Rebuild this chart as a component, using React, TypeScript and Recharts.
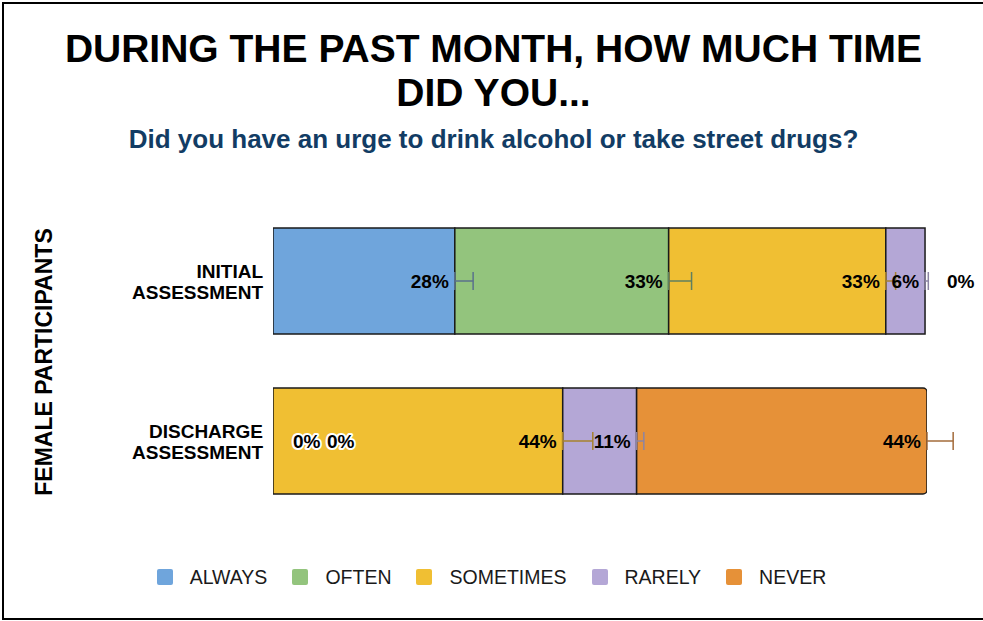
import React from "react";
import { BarChart, Bar, XAxis, YAxis, ErrorBar, LabelList } from "recharts";

const categories = ["INITIAL ASSESSMENT", "DISCHARGE ASSESSMENT"];
const always = [27.8, 0];
const often = [32.7, 0];
const sometimes = [33.2, 44.3];
const rarely = [6.0, 11.3];
const never = [0, 44.4];

const alwaysErr = [2.8, 0];
const oftenErr = [3.5, 0];
const sometimesErr = [1.5, 4.6];
const rarelyErr = [0.5, 1.1];
const neverErr = [0, 4];

const seriesNames = ["ALWAYS", "OFTEN", "SOMETIMES", "RARELY", "NEVER"];
const colors = ["#6fa5dc", "#93c47d", "#f0bf33", "#b4a7d6", "#e69138"];
const errColors = ["#5a718c", "#5f7f60", "#a7822c", "#8c84a3", "#a36b3a"];

const keys = ["always", "often", "sometimes", "rarely", "never"];
const seriesValues = [always, often, sometimes, rarely, never];

const data = categories.map((name, i) => ({
  name,
  always: always[i],
  often: often[i],
  sometimes: sometimes[i],
  rarely: rarely[i],
  never: never[i],
  alwaysE: [0, alwaysErr[i]],
  oftenE: [0, oftenErr[i]],
  sometimesE: [0, sometimesErr[i]],
  rarelyE: [0, rarelyErr[i]],
  neverE: [0, neverErr[i]],
}));

const FONT = "'Liberation Sans', Arial, sans-serif";
const LABEL_SIZE = 19;

const ZeroText = ({ x, y }: { x: number; y: number }) => (
  <text
    x={x}
    y={y}
    dy={7}
    textAnchor="start"
    fontFamily={FONT}
    fontWeight="bold"
    fontSize={LABEL_SIZE}
    fill="#000"
    stroke="#fff"
    strokeWidth={4}
    strokeLinejoin="round"
    style={{ paintOrder: "stroke" }}
  >
    0%
  </text>
);

// label for series s; zero-valued neighbours get their "0%" drawn by the
// first / last non-zero segment of the row
const makeLabel = (s: number) => (props: any) => {
  const { x, y, width, height, value, index } = props;
  if (!Number(value)) return null;
  const cy = Number(y) + Number(height) / 2;
  const row = seriesValues.map((arr) => arr[index]);
  const firstNZ = row.findIndex((v) => v > 0);
  let lastNZ = -1;
  row.forEach((v, j) => {
    if (v > 0) lastNZ = j;
  });
  const extras: React.ReactNode[] = [];
  if (s === firstNZ) {
    for (let j = 0; j < s; j++) {
      extras.push(<ZeroText key={`b${j}`} x={Number(x) + 20 + j * 34} y={cy} />);
    }
  }
  if (s === lastNZ) {
    for (let j = s + 1; j < row.length; j++) {
      extras.push(<ZeroText key={`a${j}`} x={Number(x) + Number(width) + 22 + (j - s - 1) * 34} y={cy} />);
    }
  }
  return (
    <g>
      <text
        x={Number(x) + Number(width) - 6}
        y={cy}
        dy={7}
        textAnchor="end"
        fontFamily={FONT}
        fontWeight="bold"
        fontSize={LABEL_SIZE}
        fill="#000"
      >
        {`${Math.round(Number(value))}%`}
      </text>
      {extras}
    </g>
  );
};

const CategoryTick = (props: any) => {
  const { x, y, payload } = props;
  const words = String(payload.value).split(" ");
  return (
    <g>
      {words.map((w: string, i: number) => (
        <text
          key={i}
          x={x - 2}
          y={y + (i - (words.length - 1) / 2) * 21}
          dy={7}
          textAnchor="end"
          fontFamily={FONT}
          fontWeight="bold"
          fontSize={19}
          fill="#000"
        >
          {w}
        </text>
      ))}
    </g>
  );
};

export default function App() {
  return (
    <div style={{ position: "absolute", left: 0, top: 0, width: 983, height: 621, overflow: "hidden", background: "#fff" }}>
      <div
        style={{
          position: "absolute",
          left: 2,
          top: 2,
          width: 1000,
          height: 614,
          border: "2px solid #000",
        }}
      />
      <div
        style={{
          position: "absolute",
          left: 0,
          top: 27,
          width: 987,
          textAlign: "center",
          fontFamily: FONT,
          fontWeight: "bold",
          fontSize: 39,
          lineHeight: "44px",
          color: "#000",
        }}
      >
        DURING THE PAST MONTH, HOW MUCH TIME
        <br />
        DID YOU...
      </div>
      <div
        style={{
          position: "absolute",
          left: 0,
          top: 124,
          width: 987,
          textAlign: "center",
          fontFamily: FONT,
          fontWeight: "bold",
          fontSize: 26,
          color: "#123c64",
        }}
      >
        Did you have an urge to drink alcohol or take street drugs?
      </div>
      <div
        style={{
          position: "absolute",
          left: 44,
          top: 362,
          transform: "translate(-50%, -50%) rotate(-90deg)",
          whiteSpace: "nowrap",
          fontFamily: FONT,
          fontWeight: "bold",
          fontSize: 23,
          color: "#000",
        }}
      >
        FEMALE PARTICIPANTS
      </div>
      <div style={{ position: "absolute", left: 0, top: 0 }}>
        <BarChart
          width={983}
          height={621}
          data={data}
          layout="vertical"
          margin={{ top: 201, right: 56, bottom: 100, left: 73 }}
          barCategoryGap={27}
        >
          <XAxis type="number" domain={[0, 100]} allowDataOverflow hide />
          <YAxis
            type="category"
            dataKey="name"
            width={200}
            axisLine={false}
            tickLine={false}
            tick={<CategoryTick />}
            interval={0}
          />
          {keys.map((k, i) => (
            <Bar
              key={k}
              dataKey={k}
              name={seriesNames[i]}
              stackId="a"
              fill={colors[i]}
              stroke="#1a1a1a"
              strokeWidth={1.5}
              radius={k === "never" ? [0, 4, 4, 0] : 0}
              isAnimationActive={false}
            >
              <ErrorBar dataKey={`${k}E`} direction="x" width={9} stroke={errColors[i]} strokeWidth={1.5} />
              <LabelList dataKey={k} content={makeLabel(i)} />
            </Bar>
          ))}
        </BarChart>
      </div>
      <div
        style={{
          position: "absolute",
          left: 0,
          top: 566,
          width: 983,
          display: "flex",
          justifyContent: "center",
          fontFamily: FONT,
          fontSize: 19.5,
          lineHeight: "22px",
          color: "#1a1a1a",
        }}
      >
        {seriesNames.map((n, i) => (
          <div key={n} style={{ display: "flex", alignItems: "center", marginRight: i < seriesNames.length - 1 ? 25 : 0 }}>
            <div style={{ width: 16, height: 16, borderRadius: 2, backgroundColor: colors[i], marginRight: 17 }} />
            <span>{n}</span>
          </div>
        ))}
      </div>
    </div>
  );
}
